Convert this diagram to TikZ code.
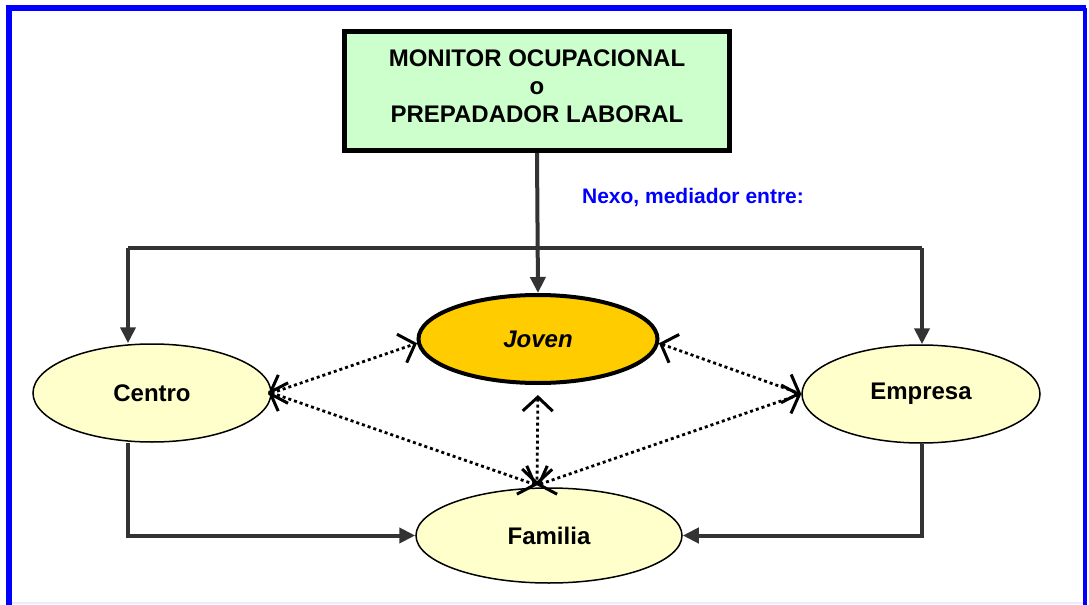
\documentclass[tikz,border=0pt]{standalone}
\usepackage{fontspec}
\setmainfont{Liberation Sans}
\usepackage{tikz}
\usetikzlibrary{shapes.geometric,arrows.meta,calc}
\definecolor{darkline}{HTML}{333333}
\definecolor{boxgreen}{HTML}{CCFFCC}
\definecolor{jovenfill}{HTML}{FFCC00}
\definecolor{paleyellow}{HTML}{FFFFCC}

\begin{document}
\begin{tikzpicture}[x=0.5pt,y=-0.5pt,
    titlebox/.style={draw=black,line width=2.5pt,fill=boxgreen,minimum width=192.5pt,
        minimum height=59.5pt,align=center,text depth=5pt,font=\bfseries\fontsize{12}{14}\selectfont},
    hub/.style={ellipse,draw=black,line width=2pt,fill=jovenfill,minimum width=119.5pt,
        minimum height=44pt,font=\bfseries\itshape\fontsize{12}{14}\selectfont},
    party/.style={ellipse,draw=black,line width=0.75pt,fill=paleyellow,minimum width=119pt,
        minimum height=49pt,font=\bfseries\fontsize{12}{14}\selectfont},
    feed/.style={draw=darkline,line width=2pt,-{Triangle[length=8pt,width=7.5pt]}},
    link/.style={line width=1.4pt,dash pattern=on 1.5pt off 1.5pt,
        {Straight Barb[length=7pt,width=15pt,line width=1.5pt]}-{Straight Barb[length=7pt,width=15pt,line width=1.5pt]}}]
     \useasboundingbox (0,0) rectangle (1089,605);
     % marco azul
     \draw[blue!8,line width=1pt] (9,603) -- (1085,603);
     \draw[blue,line width=3pt] (9,605) -- (9,8) -- (1086,8);
     \draw[blue,line width=2pt] (1085,8) -- (1085,605);
            \node[titlebox] (monitor) at (537,91) {MONITOR OCUPACIONAL\\o\\PREPADADOR LABORAL};
            \node[blue,font=\bfseries\fontsize{10.5}{12}\selectfont] (nexo) at (693,198) {Nexo, mediador entre:};
            \node[hub] (joven) at (538,339) {Joven};
            \node[party] (centro) at (152,393) {Centro};
            \node[party] (empresa) at (921,394) {Empresa};
            \node[party,minimum width=133pt,minimum height=47.5pt] (familia) at (549,535.5) {Familia};
            \coordinate (lft) at (128,248);
            \coordinate (rgt) at (922,248);
            \coordinate (meet) at ($(familia.north)+(-12,-2)$);
             \draw[feed] (monitor.south) -- (joven.north);
             \draw[feed,-] (lft) -- (rgt);
             \draw[feed] (lft) -- (lft |- centro.north);
             \draw[feed] (rgt) -- (rgt |- empresa.north);
             \draw[feed] (centro.south -| lft) |- (familia.west);
             \draw[feed] (empresa.south -| rgt) |- (familia.east);
             \draw[link,shorten <=-2pt] (centro.east) -- (joven.182);
             \draw[link,shorten <=-2pt] (centro.east) -- (meet);
             \draw[link,shorten <=5pt] (joven.south) -- (meet);
             \draw[link] (joven.358) -- (empresa.west);
             \draw[link] (meet) -- (empresa.west);
      \end{tikzpicture}
\end{document}
